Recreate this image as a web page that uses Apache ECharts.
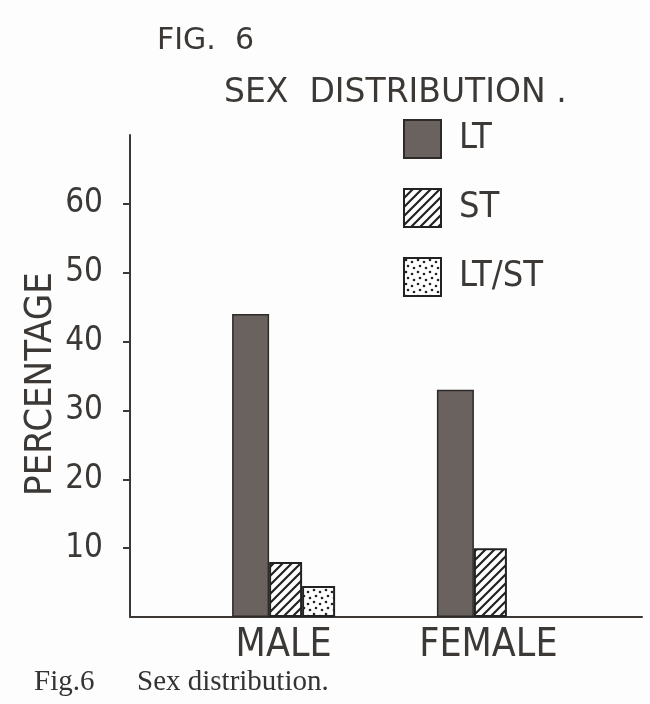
<!DOCTYPE html>
<html>
<head>
	<meta charset="UTF-8">
	<title>Sex distribution</title>
	<script src="https://cdn.jsdelivr.net/npm/echarts@6/dist/echarts.min.js"></script>
	<style>
		html, body { margin: 0; padding: 0; background: #fdfdfd; }
		#main { width: 650px; height: 704px; }
	</style>
</head>
<body>
<div id="main"></div>
<script type="text/javascript">
	// data
	var categories = ['MALE', 'FEMALE'];
	var ltValues = [44, 33];
	var stValues = [8, 10];
	var ltstValues = [4.5, null];
	var yTicks = [10, 20, 30, 40, 50, 60];

	var ink = '#3b3836';
	var font = 'DejaVu Sans';
	var narrow = "'DejaVu Sans Condensed', 'Liberation Sans Narrow', sans-serif";

	// hatch pattern for ST
	function hatch() {
		var c = document.createElement('canvas');
		c.width = 9; c.height = 9;
		var g = c.getContext('2d');
		g.fillStyle = '#fff';
		g.fillRect(0, 0, 9, 9);
		g.strokeStyle = '#222';
		g.lineWidth = 2.2;
		g.beginPath();
		g.moveTo(-2, 11); g.lineTo(11, -2);
		g.moveTo(-11, 11); g.lineTo(2, -2);
		g.moveTo(7, 11); g.lineTo(20, -2);
		g.stroke();
		return c;
	}
	// dot pattern for LT/ST
	function dots() {
		var c = document.createElement('canvas');
		c.width = 12; c.height = 12;
		var g = c.getContext('2d');
		g.fillStyle = '#fff';
		g.fillRect(0, 0, 12, 12);
		g.fillStyle = '#222';
		[[2, 2], [8, 4], [4, 8], [10, 10]].forEach(function (p) {
			g.beginPath();
			g.arc(p[0], p[1], 1.3, 0, Math.PI * 2);
			g.fill();
		});
		return c;
	}

	// spread the two groups with empty bands between them
	var axisCats = ['', categories[0], '', categories[1], ''];
	function spread(arr) {
		return [null, arr[0], null, arr[1], null];
	}

	var myChart = echarts.init(document.getElementById('main'));

	var option = {
		backgroundColor: '#fdfdfd',
		animation: false,
		title: [
			{ text: 'FIG.  6', left: 152, top: 21,
				textStyle: { fontFamily: font, fontSize: 30, fontWeight: 'normal', color: ink } },
			{ text: 'SEX  DISTRIBUTION .', left: 219, top: 72,
				textStyle: { fontFamily: font, fontSize: 33, fontWeight: 'normal', color: ink } },
			{ text: 'Fig.6', left: 29, top: 663,
				textStyle: { fontFamily: 'Liberation Serif', fontSize: 29, fontWeight: 'normal', color: '#333' } },
			{ text: 'Sex distribution.', left: 132, top: 663,
				textStyle: { fontFamily: 'Liberation Serif', fontSize: 29, fontWeight: 'normal', color: '#333' } }
		],
		legend: {
			orient: 'vertical',
			left: 403,
			top: 119,
			padding: 0,
			itemWidth: 37,
			itemHeight: 38,
			itemGap: 29,
			icon: 'rect',
			textStyle: { fontFamily: narrow, fontSize: 36, color: ink, padding: [4, 0, 0, 13] },
			data: ['LT', 'ST', 'LT/ST']
		},
		grid: { left: 130, right: 8, top: 135, bottom: 87 },
		xAxis: {
			type: 'category',
			data: axisCats,
			axisLine: { lineStyle: { color: ink, width: 2 } },
			axisTick: { show: false },
			axisLabel: { fontFamily: narrow, fontSize: 39, color: ink, margin: 9, interval: 0 }
		},
		yAxis: {
			type: 'value',
			min: 0,
			max: 70,
			interval: 10,
			name: 'PERCENTAGE',
			nameLocation: 'middle',
			nameGap: 70,
			nameMoveOverlap: false,
			nameTextStyle: { fontFamily: narrow, fontSize: 38, color: ink, padding: [0, 16, 0, 0] },
			splitLine: { show: false },
			axisLine: { show: true, lineStyle: { color: ink, width: 2 } },
			axisTick: { show: true, length: 7, customValues: yTicks, lineStyle: { color: ink, width: 2 } },
			axisLabel: {
				fontFamily: narrow, fontSize: 33, color: ink, margin: 27,
				customValues: yTicks
			}
		},
		series: [
			{
				name: 'LT', type: 'bar', data: spread(ltValues),
				barWidth: 37, barGap: '0%',
				itemStyle: { color: '#6a625e', borderColor: '#2e2a28', borderWidth: 1.5 }
			},
			{
				name: 'ST', type: 'bar', data: spread(stValues),
				barWidth: 33, barGap: '0%',
				itemStyle: { color: { image: hatch(), repeat: 'repeat' }, borderColor: '#222', borderWidth: 2 }
			},
			{
				name: 'LT/ST', type: 'bar', data: spread(ltstValues),
				barWidth: 33, barGap: '0%',
				itemStyle: { color: { image: dots(), repeat: 'repeat' }, borderColor: '#222', borderWidth: 2 }
			}
		]
	};
	myChart.setOption(option);
</script>
</body>
</html>
